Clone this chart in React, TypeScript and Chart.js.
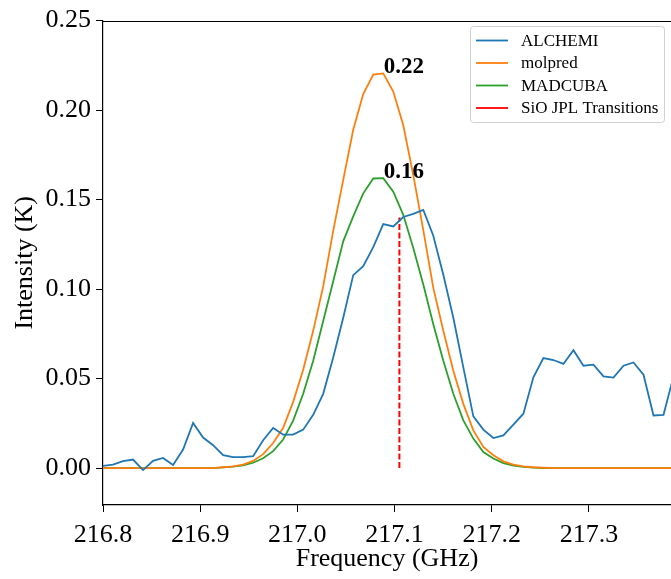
import React, { useEffect, useRef } from "react";
import { Chart, registerables } from "chart.js";

Chart.register(...registerables);

// Frequency grid (GHz)
const freq = [
  216.8000, 216.8103, 216.8206, 216.8309, 216.8412, 216.8515, 216.8618, 216.8721, 216.8824, 216.8927,
  216.9030, 216.9133, 216.9236, 216.9339, 216.9442, 216.9545, 216.9648, 216.9751, 216.9854, 216.9957,
  217.0060, 217.0163, 217.0266, 217.0369, 217.0472, 217.0575, 217.0678, 217.0781, 217.0884, 217.0987,
  217.1090, 217.1193, 217.1296, 217.1399, 217.1502, 217.1605, 217.1708, 217.1811, 217.1914, 217.2017,
  217.2120, 217.2223, 217.2326, 217.2429, 217.2532, 217.2635, 217.2738, 217.2841, 217.2944, 217.3047,
  217.3150, 217.3253, 217.3356, 217.3459, 217.3562, 217.3665, 217.3768, 217.3871,
];

const alchemi = [
  0.0012, 0.0020, 0.0039, 0.0048, -0.0011, 0.0041, 0.0057, 0.0017, 0.0104, 0.0252,
  0.0171, 0.0128, 0.0072, 0.0061, 0.0062, 0.0067, 0.0156, 0.0224, 0.0187, 0.0187,
  0.0215, 0.0298, 0.0415, 0.0618, 0.0840, 0.1078, 0.1128, 0.1235, 0.1363, 0.1350,
  0.1403, 0.1420, 0.1443, 0.1298, 0.1080, 0.0840, 0.0563, 0.0289, 0.0215, 0.0168,
  0.0183, 0.0243, 0.0304, 0.0507, 0.0615, 0.0604, 0.0582, 0.0659, 0.0572, 0.0578,
  0.0513, 0.0506, 0.0572, 0.0590, 0.0522, 0.0294, 0.0298, 0.0513,
];

const molpred = [
  0, 0, 0, 0, 0, 0, 0, 0, 0, 0,
  0, 0, 0.0005, 0.0010, 0.0020, 0.0040, 0.0078, 0.0140, 0.0225, 0.0370,
  0.0550, 0.0767, 0.1015, 0.1325, 0.1610, 0.1890, 0.2090, 0.2198, 0.2205, 0.2104,
  0.1915, 0.1637, 0.1330, 0.1007, 0.0767, 0.0544, 0.0359, 0.0211, 0.0118, 0.0072,
  0.0038, 0.0020, 0.0010, 0.0005, 0.0002, 0, 0, 0, 0, 0,
  0, 0, 0, 0, 0, 0, 0, 0,
];

const madcuba = [
  0, 0, 0, 0, 0, 0, 0, 0, 0, 0,
  0, 0, 0.0004, 0.0008, 0.0015, 0.0030, 0.0055, 0.0095, 0.0160, 0.0265,
  0.0415, 0.0600, 0.0822, 0.1044, 0.1267, 0.1406, 0.1535, 0.1618, 0.1620, 0.1544,
  0.1415, 0.1230, 0.1026, 0.0804, 0.0600, 0.0415, 0.0267, 0.0165, 0.0090, 0.0054,
  0.0028, 0.0014, 0.0007, 0.0003, 0, 0, 0, 0, 0, 0,
  0, 0, 0, 0, 0, 0, 0, 0,
];

const sioFreq = [217.105, 217.105];
const sioLevel = [0, 0.14];

const xTicks = [216.8, 216.9, 217.0, 217.1, 217.2, 217.3];
const yTicks = [0, 0.05, 0.1, 0.15, 0.2, 0.25];

const labels = ["ALCHEMI", "molpred", "MADCUBA", "SiO JPL Transitions"];
const colors = ["#1f77b4", "#ff7f0e", "#2ca02c", "#ff0000"];

const SERIF = "'Liberation Serif', 'DejaVu Serif', serif";

export default function App() {
  const ref = useRef<HTMLCanvasElement | null>(null);

  useEffect(() => {
    const canvas = ref.current;
    if (!canvas) return;

    const toXY = (xs: number[], ys: number[]) => xs.map((x, i) => ({ x, y: ys[i] }));

    const framePlugin = {
      id: "frame",
      afterDatasetsDraw(chart: any) {
        const { ctx, chartArea } = chart;
        const t = Math.round(chartArea.top) + 0.5;
        ctx.save();
        ctx.strokeStyle = "#000";
        ctx.lineWidth = 1.2;
        ctx.beginPath();
        ctx.moveTo(chartArea.left - 0.5, t);
        ctx.lineTo(chartArea.right, t);
        ctx.stroke();
        ctx.restore();
      },
    };

    const annotPlugin = {
      id: "peaks",
      afterDatasetsDraw(chart: any) {
        const { ctx } = chart;
        const xs = chart.scales.x;
        const ys = chart.scales.y;
        ctx.save();
        ctx.fillStyle = "#000";
        ctx.font = `bold 23px ${SERIF}`;
        ctx.textAlign = "left";
        ctx.textBaseline = "alphabetic";
        [molpred, madcuba].forEach((arr) => {
          let mi = 0;
          arr.forEach((v, i) => {
            if (v > arr[mi]) mi = i;
          });
          const px = xs.getPixelForValue(freq[mi]);
          const py = ys.getPixelForValue(arr[mi]);
          ctx.fillText(arr[mi].toFixed(2), px + 0.5, py - 0.5);
        });
        ctx.restore();
      },
    };

    const legendPlugin = {
      id: "customLegend",
      afterDraw(chart: any) {
        const { ctx } = chart;
        const bx = 470.5, by = 26.5, bw = 194, bh = 96, r = 3;
        ctx.save();
        ctx.globalAlpha = 0.8;
        ctx.fillStyle = "#ffffff";
        ctx.beginPath();
        ctx.roundRect(bx, by, bw, bh, r);
        ctx.fill();
        ctx.globalAlpha = 1;
        ctx.strokeStyle = "#d0d0d0";
        ctx.lineWidth = 1;
        ctx.stroke();
        ctx.font = `17px ${SERIF}`;
        ctx.textBaseline = "middle";
        ctx.textAlign = "left";
        labels.forEach((lab, i) => {
          const cy = 40.5 + i * 22.5;
          ctx.strokeStyle = colors[i];
          ctx.lineWidth = 1.8;
          ctx.beginPath();
          ctx.moveTo(476, cy);
          ctx.lineTo(508, cy);
          ctx.stroke();
          ctx.fillStyle = "#000";
          ctx.fillText(lab, 521, cy + 1);
        });
        ctx.restore();
      },
    };

    const tickFont = { family: SERIF, size: 26 };

    const chart = new Chart(canvas, {
      type: "line",
      data: {
        datasets: [
          {
            label: labels[0],
            data: toXY(freq, alchemi),
            borderColor: colors[0],
            borderWidth: 1.8,
            pointRadius: 0,
            tension: 0,
          },
          {
            label: labels[1],
            data: toXY(freq, molpred),
            borderColor: colors[1],
            borderWidth: 1.8,
            pointRadius: 0,
            tension: 0,
          },
          {
            label: labels[2],
            data: toXY(freq, madcuba),
            borderColor: colors[2],
            borderWidth: 1.8,
            pointRadius: 0,
            tension: 0,
          },
          {
            label: labels[3],
            data: toXY(sioFreq, sioLevel),
            borderColor: colors[3],
            borderWidth: 2,
            borderDash: [6, 2.5],
            pointRadius: 0,
            tension: 0,
          },
        ],
      },
      options: {
        responsive: false,
        animation: false,
        devicePixelRatio: 1,
        layout: { padding: { top: 18, right: 0, left: 0, bottom: 0 } },
        plugins: {
          legend: { display: false },
          tooltip: { enabled: false },
        },
        scales: {
          x: {
            type: "linear",
            min: 216.8,
            max: 217.3845,
            afterBuildTicks: (s: any) => {
              s.ticks = xTicks.map((v) => ({ value: v }));
            },
            afterFit: (s: any) => {
              s.height = 74;
            },
            ticks: {
              callback: (v: any) => Number(v).toFixed(1),
              font: tickFont,
              color: "#000",
              padding: 8,
              maxRotation: 0,
              autoSkip: false,
            },
            grid: {
              drawOnChartArea: false,
              drawTicks: true,
              tickLength: 7,
              tickColor: "#000",
              tickWidth: 1,
            },
            border: { display: true, color: "#000", width: 1.2 },
            title: {
              display: true,
              text: "Frequency (GHz)",
              font: { family: SERIF, size: 26 },
              color: "#000",
              padding: { top: 0, bottom: 4 },
            },
          },
          y: {
            type: "linear",
            min: -0.0206,
            max: 0.25,
            afterBuildTicks: (s: any) => {
              s.ticks = yTicks.map((v) => ({ value: v }));
            },
            afterFit: (s: any) => {
              s.width = 103;
            },
            ticks: {
              callback: (v: any) => Number(v).toFixed(2),
              font: tickFont,
              color: "#000",
              padding: 5,
              autoSkip: false,
            },
            grid: {
              drawOnChartArea: false,
              drawTicks: true,
              tickLength: 7,
              tickColor: "#000",
              tickWidth: 1,
            },
            border: { display: true, color: "#000", width: 1.2 },
            title: {
              display: true,
              text: "Intensity (K)",
              font: { family: SERIF, size: 26 },
              color: "#000",
              padding: { top: 10, bottom: 0 },
            },
          },
        },
      },
      plugins: [framePlugin, annotPlugin, legendPlugin],
    } as any);

    return () => chart.destroy();
  }, []);

  return (
    <div style={{ position: "absolute", left: 0, top: 0, width: 671, height: 579, overflow: "hidden", background: "#fff" }}>
      <canvas ref={ref} width={671} height={579} style={{ display: "block", width: 671, height: 579 }} />
    </div>
  );
}
